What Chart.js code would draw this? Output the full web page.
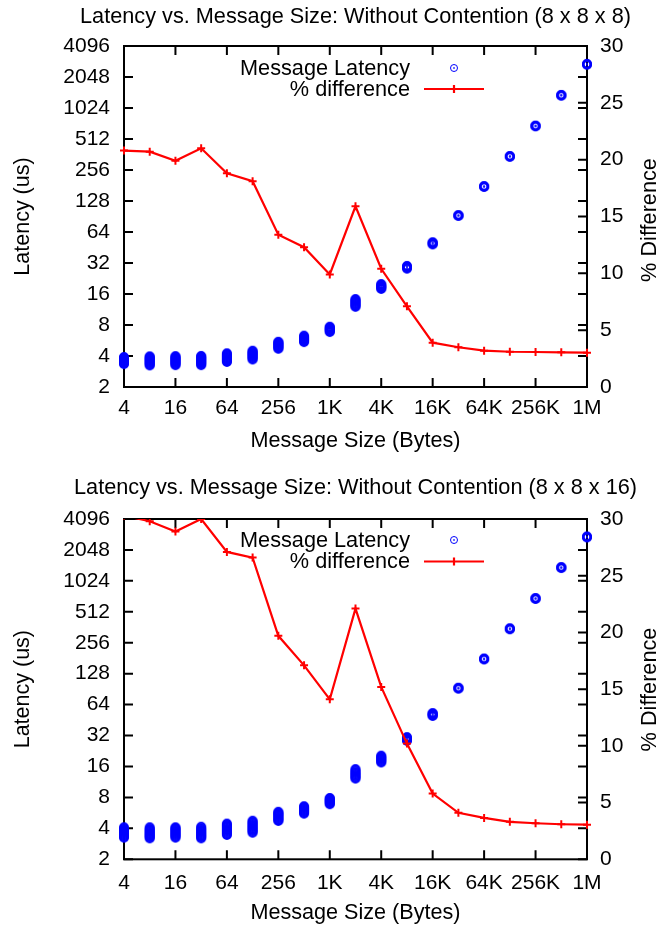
<!DOCTYPE html>
<html>
<head>
<meta charset="utf-8">
<script src="https://cdn.jsdelivr.net/npm/chart.js@4.4.1/dist/chart.umd.min.js"></script>
<style>
  html, body { margin: 0; padding: 0; background: #fff; }
  canvas { display: block; }
</style>
</head>
<body>
<canvas id="panelA" width="659" height="464"></canvas>
<canvas id="panelB" width="659" height="464"></canvas>
<script>
// Message sizes in bytes (one point per power of two)
const sizes = [4, 8, 16, 32, 64, 128, 256, 512, 1024, 2048, 4096, 8192, 16384,
               32768, 65536, 131072, 262144, 524288, 1048576];

// Axis ticks
const xTickValues = [4, 16, 64, 256, 1024, 4096, 16384, 65536, 262144, 1048576];
const xTickLabels = ['4', '16', '64', '256', '1K', '4K', '16K', '64K', '256K', '1M'];
const yTickValues = [2, 4, 8, 16, 32, 64, 128, 256, 512, 1024, 2048, 4096];
const yTickLabels = ['2', '4', '8', '16', '32', '64', '128', '256', '512', '1024', '2048', '4096'];
const pctTickValues = [0, 5, 10, 15, 20, 25, 30];
const pctTickLabels = ['0', '5', '10', '15', '20', '25', '30'];

// 8 x 8 x 8: latency samples (us) for each message size, and % difference
const latency888 = [
  [3.34, 3.41, 3.48, 3.55, 3.62, 3.69, 3.76, 3.84, 3.91],
  [3.24, 3.31, 3.39, 3.47, 3.55, 3.63, 3.71, 3.80, 3.88, 3.97],
  [3.26, 3.33, 3.41, 3.49, 3.57, 3.65, 3.73, 3.82, 3.90, 3.99],
  [3.26, 3.34, 3.42, 3.50, 3.58, 3.67, 3.75, 3.84, 3.92, 4.01],
  [3.50, 3.58, 3.67, 3.76, 3.85, 3.95, 4.05, 4.15, 4.25],
  [3.70, 3.79, 3.89, 3.99, 4.09, 4.19, 4.29, 4.40, 4.50],
  [4.70, 4.81, 4.92, 5.04, 5.16, 5.28, 5.40, 5.50],
  [5.46, 5.58, 5.71, 5.84, 5.98, 6.12, 6.30],
  [6.84, 6.98, 7.12, 7.27, 7.42, 7.56, 7.70],
  [12.0, 12.3, 12.6, 12.9, 13.3, 13.6, 13.9, 14.3],
  [17.9, 18.3, 18.7, 19.1, 19.5, 20.0],
  [28.2, 28.8, 29.4, 30.0],
  [48.5, 49.3, 50.1, 50.9],
  [91.8, 92.5, 93.3],
  [175.5, 177, 178.6],
  [344, 347, 350],
  [679, 685, 691],
  [1349, 1360, 1372],
  [2698, 2720, 2743]
];
const pctDiff888 = [20.8, 20.7, 19.9, 21.0, 18.8, 18.1, 13.4, 12.3, 9.9, 15.9,
                    10.4, 7.1, 3.9, 3.5, 3.2, 3.1, 3.08, 3.05, 3.02];

// 8 x 8 x 16: latency samples (us) for each message size, and % difference
const latency8816 = [
  [3.25, 3.33, 3.41, 3.50, 3.59, 3.68, 3.77, 3.87, 3.97, 4.10],
  [3.20, 3.28, 3.37, 3.46, 3.55, 3.64, 3.74, 3.84, 3.95, 4.10],
  [3.25, 3.33, 3.42, 3.51, 3.60, 3.70, 3.80, 3.90, 4.00, 4.10],
  [3.20, 3.29, 3.38, 3.47, 3.57, 3.67, 3.78, 3.89, 4.01, 4.15],
  [3.45, 3.55, 3.65, 3.75, 3.86, 3.97, 4.09, 4.21, 4.33, 4.45],
  [3.63, 3.74, 3.85, 3.96, 4.08, 4.20, 4.33, 4.47, 4.61, 4.75],
  [4.72, 4.84, 4.97, 5.10, 5.24, 5.38, 5.52, 5.66, 5.80],
  [5.56, 5.70, 5.84, 5.98, 6.12, 6.27, 6.42, 6.57],
  [6.87, 7.01, 7.15, 7.30, 7.45, 7.60, 7.75, 7.90],
  [12.2, 12.5, 12.9, 13.3, 13.7, 14.1, 14.6, 15.1],
  [17.5, 17.9, 18.4, 18.9, 19.4, 19.9, 20.4],
  [28.4, 29.0, 29.6, 30.2, 30.9],
  [49.6, 50.5, 51.4, 52.2, 52.9],
  [91.5, 92.5, 93.5],
  [176, 178, 180],
  [346, 350, 354],
  [683, 690, 697],
  [1366, 1380, 1394],
  [2712, 2740, 2768]
];
const pctDiff8816 = [30.3, 29.8, 28.9, 30.0, 27.1, 26.6, 19.7, 17.1, 14.1, 22.1,
                     15.2, 10.2, 5.8, 4.1, 3.65, 3.3, 3.18, 3.09, 3.05];

const FONT = '"Liberation Sans", Arial, Helvetica, sans-serif';
const BLUE = '#0000ff';
const RED = '#ff0000';
const TICK = 9;

Chart.defaults.font.family = FONT;
Chart.defaults.font.size = 21;
Chart.defaults.color = '#000';

// Open circle with a centre dot, used as the latency marker
function ringMarker(lineWidth, radius) {
  const c = document.createElement('canvas');
  c.width = 12; c.height = 12;
  const g = c.getContext('2d');
  g.strokeStyle = BLUE; g.fillStyle = BLUE; g.lineWidth = lineWidth;
  g.beginPath(); g.arc(6, 6, radius, 0, Math.PI * 2); g.stroke();
  g.fillRect(5.25, 5.25, 1.5, 1.5);
  return c;
}
const dataMarker = ringMarker(2.3, 3.8);
const keyMarker = ringMarker(1, 3.5);

// Border box with inward ticks on all four sides
const frameTicks = {
  id: 'frameTicks',
  beforeDatasetsDraw(chart) {
    const { ctx, chartArea: a, scales } = chart;
    ctx.save();
    ctx.strokeStyle = '#000';
    ctx.lineWidth = 2;
    ctx.beginPath();
    xTickValues.forEach(v => {
      const p = scales.x.getPixelForValue(v);
      ctx.moveTo(p, a.bottom); ctx.lineTo(p, a.bottom - TICK);
      ctx.moveTo(p, a.top); ctx.lineTo(p, a.top + TICK);
    });
    yTickValues.forEach(v => {
      const p = scales.y.getPixelForValue(v);
      ctx.moveTo(a.left, p); ctx.lineTo(a.left + TICK, p);
      ctx.moveTo(a.right, p); ctx.lineTo(a.right - TICK, p);
    });
    pctTickValues.forEach(v => {
      const p = scales.y2.getPixelForValue(v);
      ctx.moveTo(a.right, p); ctx.lineTo(a.right - TICK, p);
    });
    ctx.stroke();
    ctx.strokeRect(a.left, a.top, a.right - a.left, a.bottom - a.top);
    ctx.restore();
  }
};

// Panel title over the plot, key inside the plot, and the right axis title
const panelText = {
  id: 'panelText',
  afterDraw(chart, args, opts) {
    const { ctx, chartArea: a } = chart;
    const ds = chart.data.datasets;
    const lat = ds.find(d => d.yAxisID === 'y');
    const pct = ds.find(d => d.yAxisID === 'y2');
    ctx.save();
    ctx.fillStyle = '#000';
    // title, centred over the plot area
    ctx.font = '21.7px ' + FONT;
    ctx.textAlign = 'center';
    ctx.textBaseline = 'middle';
    ctx.fillText(opts.title, (a.left + a.right) / 2, opts.titleY);
    // key
    ctx.textAlign = 'right';
    ctx.fillText(lat.label, opts.textRight, opts.rows[0]);
    ctx.fillText(pct.label, opts.textRight, opts.rows[1]);
    ctx.drawImage(keyMarker, opts.sampleX - 6, opts.rows[0] - 7);
    ctx.strokeStyle = pct.borderColor;
    ctx.lineWidth = 2.2;
    ctx.beginPath();
    ctx.moveTo(opts.sampleX - 30, opts.rows[1] - 1);
    ctx.lineTo(opts.sampleX + 30, opts.rows[1] - 1);
    ctx.moveTo(opts.sampleX, opts.rows[1] - 5);
    ctx.lineTo(opts.sampleX, opts.rows[1] + 3);
    ctx.stroke();
    // right axis title, reading bottom to top
    ctx.translate(opts.y2TitleX, opts.y2TitleY);
    ctx.rotate(-Math.PI / 2);
    ctx.textAlign = 'center';
    ctx.fillText('% Difference', 0, 0);
    ctx.restore();
  }
};

function tickFrom(values, labels) {
  return v => {
    const i = values.indexOf(v);
    return i >= 0 ? labels[i] : '';
  };
}

function makePanel(id, title, latency, pctDiff, L) {
  const latPoints = [];
  sizes.forEach((s, i) => latency[i].forEach(v => latPoints.push({ x: s, y: v })));
  const pctPoints = sizes.map((s, i) => ({ x: s, y: pctDiff[i] }));

  return new Chart(document.getElementById(id), {
    type: 'line',
    data: {
      datasets: [
        {
          label: '% difference',
          data: pctPoints,
          yAxisID: 'y2',
          borderColor: RED,
          backgroundColor: RED,
          borderWidth: 2.2,
          pointStyle: 'cross',
          pointRadius: 4,
          pointBorderWidth: 2,
          pointHoverRadius: 4,
          tension: 0,
          clip: { left: 6, right: 6, top: 0, bottom: 0 }
        },
        {
          label: 'Message Latency',
          data: latPoints,
          yAxisID: 'y',
          showLine: false,
          pointStyle: dataMarker,
          pointRadius: 4,
          pointHoverRadius: 4,
          borderColor: BLUE,
          backgroundColor: BLUE,
          clip: false
        }
      ]
    },
    options: {
      responsive: false,
      devicePixelRatio: 1,
      animation: false,
      events: [],
      layout: { padding: { top: L.plotTop, left: 0, right: 0, bottom: 0 } },
      plugins: {
        legend: { display: false },
        tooltip: { enabled: false },
        title: { display: false },
        panelText: Object.assign({ title }, L.text)
      },
      scales: {
        x: {
          type: 'logarithmic',
          position: 'bottom',
          min: 4,
          max: 1048576,
          afterBuildTicks: s => { s.ticks = xTickValues.map(v => ({ value: v })); },
          afterFit: s => { s.height = L.xAxisHeight; },
          grid: { display: false, drawTicks: false },
          border: { display: false },
          ticks: { autoSkip: false, maxRotation: 0, minRotation: 0, padding: L.xTickPad,
                   callback: tickFrom(xTickValues, xTickLabels) },
          title: { display: true, text: 'Message Size (Bytes)', font: { size: 21.6 },
                   padding: { top: 0, bottom: L.xTitlePad } }
        },
        y: {
          type: 'logarithmic',
          position: 'left',
          min: 2,
          max: 4096,
          afterBuildTicks: s => { s.ticks = yTickValues.map(v => ({ value: v })); },
          afterFit: s => { s.width = 124; },
          grid: { display: false, drawTicks: false },
          border: { display: false },
          ticks: { autoSkip: false, padding: 14, callback: tickFrom(yTickValues, yTickLabels) },
          title: { display: true, text: 'Latency (us)', font: { size: 21.5 },
                   padding: { top: 10, bottom: 0 } }
        },
        y2: {
          type: 'linear',
          position: 'right',
          min: 0,
          max: 30,
          afterBuildTicks: s => { s.ticks = pctTickValues.map(v => ({ value: v })); },
          afterFit: s => { s.width = 72; },
          grid: { display: false, drawTicks: false },
          border: { display: false },
          ticks: { autoSkip: false, padding: 13, callback: tickFrom(pctTickValues, pctTickLabels) }
        }
      }
    },
    plugins: [frameTicks, panelText]
  });
}

makePanel('panelA', 'Latency vs. Message Size: Without Contention (8 x 8 x 8)',
  latency888, pctDiff888, {
    plotTop: 46,
    xAxisHeight: 77, xTickPad: 9, xTitlePad: 10,
    text: { titleY: 16.8, textRight: 410, sampleX: 454, rows: [69, 90],
            y2TitleX: 650.5, y2TitleY: 220 }
  });

makePanel('panelB', 'Latency vs. Message Size: Without Contention (8 x 8 x 16)',
  latency8816, pctDiff8816, {
    plotTop: 55,
    xAxisHeight: 68.7, xTickPad: 11, xTitlePad: 2,
    text: { titleY: 23.7, textRight: 410, sampleX: 454, rows: [77, 98.5],
            y2TitleX: 650.5, y2TitleY: 225.5 }
  });
</script>
</body>
</html>
